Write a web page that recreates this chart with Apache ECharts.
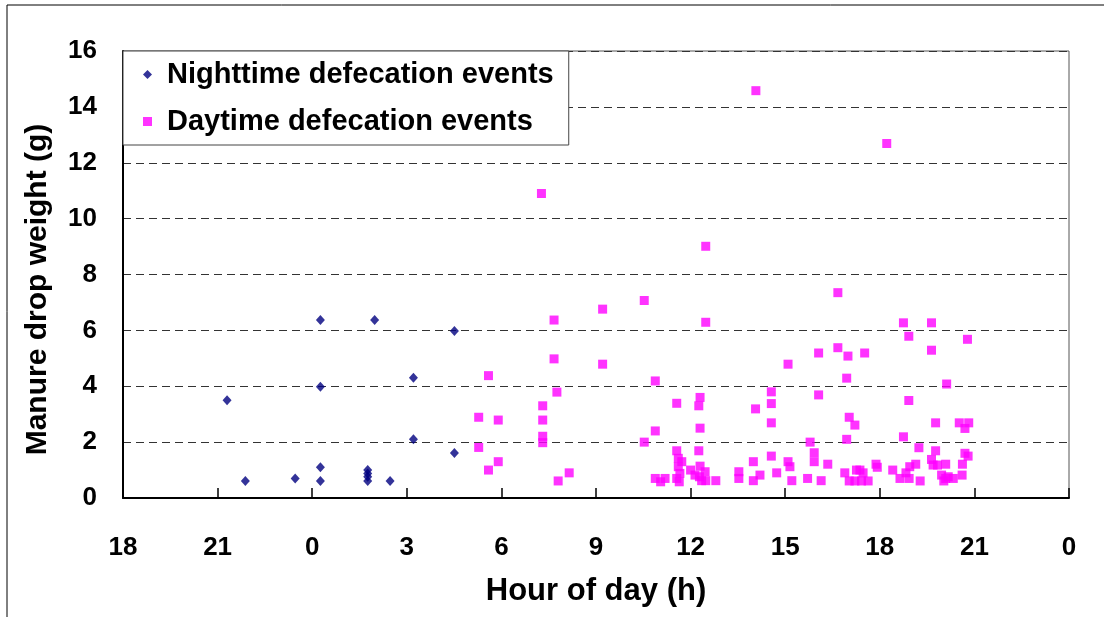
<!DOCTYPE html>
<html>
<head>
<meta charset="utf-8">
<script src="https://cdn.jsdelivr.net/npm/echarts@6/dist/echarts.min.js"></script>
<style>
html,body{margin:0;padding:0;background:#fff;}
#chart{width:1104px;height:617px;}
</style>
</head>
<body>
<div id="chart"></div>
<script>
// x values are hours elapsed since 18:00 of the previous day (axis 0..30 => 18h .. 0h)
const xTickLabels = ['18','21','0','3','6','9','12','15','18','21','0'];
const yTickValues = [0,2,4,6,8,10,12,14,16];

const nightHour = [3.30,3.88,5.46,6.26,6.26,6.26,6.26,7.98,7.76,7.76,7.76,7.76,8.47,9.21,9.21,10.51,10.51];
const nightWeight = [3.50,0.61,0.70,6.37,3.98,1.10,0.61,6.37,1.00,0.88,0.76,0.61,0.61,4.30,2.10,5.98,1.61];

const dayHour = [11.28,11.28,11.59,11.59,11.90,11.90,13.31,13.31,13.31,13.31,13.27,13.67,13.67,13.76,13.80,14.15,
  15.21,15.21,16.53,16.53,16.88,16.88,16.88,17.05,17.19,17.56,17.56,17.61,17.72,17.61,17.66,17.56,17.64,
  18.00,18.14,18.30,18.26,18.30,18.26,18.30,18.28,18.46,18.35,18.48,18.48,18.48,18.80,19.53,19.53,19.99,19.99,
  20.07,20.06,20.20,20.56,20.56,20.56,20.56,20.73,21.09,21.09,21.15,21.21,21.71,21.79,21.92,21.92,22.06,22.06,
  22.14,22.35,22.67,22.67,22.99,23.52,22.95,23.03,23.21,22.95,22.89,23.03,23.21,23.26,23.37,23.47,23.42,23.63,
  23.88,23.92,24.22,24.41,24.64,24.83,24.95,25.14,24.93,25.28,24.75,25.64,24.92,25.64,26.78,26.12,24.92,24.75,
  25.24,25.77,26.52,26.82,26.70,25.77,25.64,25.69,25.83,26.09,25.96,26.09,26.03,26.17,26.33,26.61,26.62,26.70,26.80];
const dayWeight = [2.89,1.81,4.38,1.00,2.79,1.30,3.30,2.79,2.21,1.98,10.90,6.37,4.98,3.79,0.61,0.90,
  6.76,4.79,7.07,2.00,4.19,2.40,0.70,0.58,0.70,3.39,1.69,1.42,1.30,1.12,0.88,0.70,0.58,
  1.00,0.82,3.60,3.30,2.50,1.69,1.14,0.76,0.94,0.62,0.62,9.01,6.29,0.62,0.94,0.70,1.30,0.62,
  14.58,3.19,0.82,3.80,3.38,2.69,1.50,0.90,4.79,1.30,1.12,0.62,0.70,2.00,1.62,1.30,5.19,3.69,
  0.62,1.21,7.35,5.38,5.08,5.19,4.29,2.89,2.61,2.10,0.90,0.61,0.61,1.00,1.00,0.90,0.61,0.61,
  1.21,1.10,12.69,1.00,0.70,0.90,1.12,1.21,0.70,0.61,6.27,6.27,5.79,5.29,5.68,4.08,3.49,2.19,
  1.80,2.69,2.69,2.69,2.49,1.69,1.38,1.18,1.18,1.21,0.82,0.70,0.61,0.76,0.70,0.82,1.21,1.60,1.50];

const nightData = nightHour.map((h, i) => [h, nightWeight[i]]);
const dayData = dayHour.map((h, i) => [h, dayWeight[i]]);

const FONT = '"Liberation Sans", Arial, sans-serif';
const chart = echarts.init(document.getElementById('chart'), null, {renderer: 'canvas'});
chart.setOption({
  animation: false,
  backgroundColor: '#ffffff',
  graphic: [{
    type: 'rect', silent: true, z: -10,
    shape: {x: 7, y: 5, width: 1300, height: 800},
    style: {fill: 'none', stroke: '#000', lineWidth: 1}
  }],
  grid: {
    left: 123, right: 35, top: 51, bottom: 119,
    show: true, borderColor: '#555', borderWidth: 1, backgroundColor: 'transparent'
  },
  legend: {
    orient: 'vertical',
    left: 123, top: 51,
    padding: [9, 15, 9, 20],
    itemGap: 18,
    itemWidth: 9, itemHeight: 9,
    backgroundColor: '#fff',
    borderColor: '#444', borderWidth: 1,
    textStyle: {fontFamily: FONT, fontWeight: 'bold', fontSize: 29, color: '#000', padding: [0, 0, 0, 10]},
    data: [
      {name: 'Nighttime defecation events', icon: 'diamond'},
      {name: 'Daytime defecation events', icon: 'rect'}
    ]
  },
  xAxis: {
    type: 'value', min: 0, max: 30, interval: 3,
    name: 'Hour of day (h)', nameLocation: 'middle', nameGap: 78,
    nameTextStyle: {fontFamily: FONT, fontWeight: 'bold', fontSize: 31, color: '#000'},
    axisLine: {show: true, onZero: false, lineStyle: {color: '#000', width: 2}},
    axisTick: {show: true, inside: true, length: 10, lineStyle: {color: '#000', width: 1.5}},
    axisLabel: {
      margin: 37, fontFamily: FONT, fontWeight: 'bold', fontSize: 26, color: '#000',
      formatter: function (v) { return xTickLabels[Math.round(v / 3)]; }
    },
    splitLine: {show: false}
  },
  yAxis: {
    type: 'value', min: 0, max: 16, interval: 2,
    name: 'Manure drop weight (g)', nameLocation: 'middle', nameGap: 70,
    nameTextStyle: {fontFamily: FONT, fontWeight: 'bold', fontSize: 30, color: '#000', padding: [0, 30, 0, 0]},
    axisLine: {show: true, onZero: false, lineStyle: {color: '#000', width: 2}},
    axisTick: {show: false},
    axisLabel: {
      margin: 26, fontFamily: FONT, fontWeight: 'bold', fontSize: 26, color: '#000',
      formatter: function (v) { return yTickValues.indexOf(v) >= 0 ? String(v) : ''; }
    },
    splitLine: {show: true, lineStyle: {color: '#333', type: [8, 5], width: 1}}
  },
  series: [
    {
      name: 'Nighttime defecation events', type: 'scatter',
      symbol: 'diamond', symbolSize: [9, 10],
      itemStyle: {color: '#000080'},
      data: nightData, z: 3
    },
    {
      name: 'Daytime defecation events', type: 'scatter',
      symbol: 'rect', symbolSize: [9, 9],
      itemStyle: {color: '#FF00FF'},
      data: dayData, z: 3
    }
  ]
});
</script>
</body>
</html>
